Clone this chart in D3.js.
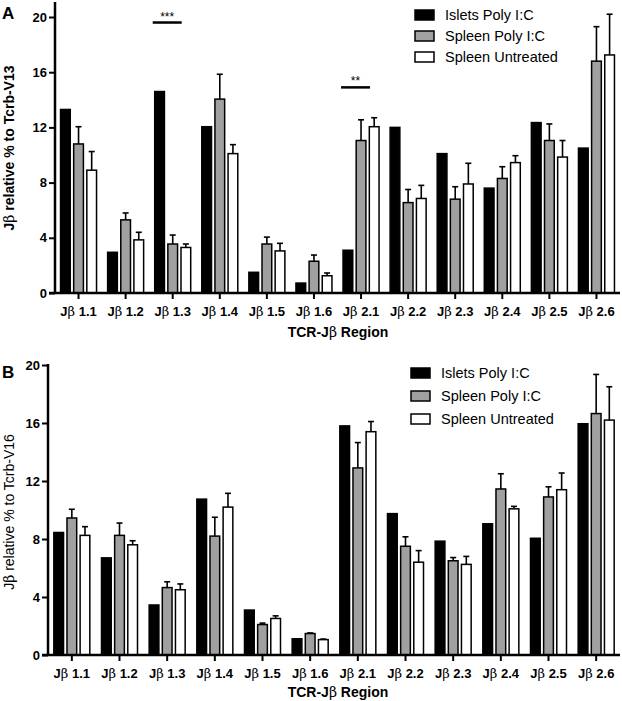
<!DOCTYPE html>
<html lang="en">
<head>
<meta charset="UTF-8">
<title>TCR-Jb usage</title>
<script src="https://cdn.jsdelivr.net/npm/d3@7"></script>
<style>
  body { margin: 0; background: #fff; }
  svg { font-family: Arial, "Liberation Sans", sans-serif; display: block; }
  .tick-label { font-size: 13px; font-weight: bold; }
  .beta { font-family: "DejaVu Serif", "Liberation Serif", serif; font-weight: normal; }
</style>
</head>
<body>
<svg id="chart" width="622" height="701"></svg>
<script>
// categories and series
var regions = ["1.1", "1.2", "1.3", "1.4", "1.5", "1.6", "2.1", "2.2", "2.3", "2.4", "2.5", "2.6"];
var seriesNames = ["Islets Poly I:C", "Spleen Poly I:C", "Spleen Untreated"];
var seriesFill = ["#000000", "#a0a0a0", "#ffffff"];
var yTicks = [0, 4, 8, 12, 16, 20];

// panel A (Tcrb-V13): means and upper error ends
var islets13 = [13.3, 2.95, 14.6, 12.05, 1.5, 0.72, 3.1, 12.0, 10.1, 7.6, 12.35, 10.5];
var splPoly13 = [10.8, 5.3, 3.55, 14.05, 3.55, 2.3, 11.05, 6.55, 6.8, 8.3, 11.05, 16.8];
var splPoly13Err = [12.05, 5.8, 4.2, 15.85, 4.05, 2.75, 12.55, 7.5, 7.7, 9.15, 12.25, 19.3];
var splUnt13 = [8.9, 3.85, 3.3, 10.1, 3.05, 1.25, 12.05, 6.85, 7.9, 9.45, 9.85, 17.25];
var splUnt13Err = [10.25, 4.4, 3.55, 10.75, 3.6, 1.45, 12.7, 7.8, 9.4, 9.95, 11.05, 20.2];

// panel B (Tcrb-V16)
var islets16 = [8.45, 6.7, 3.45, 10.75, 3.1, 1.12, 15.8, 9.75, 7.85, 9.05, 8.05, 15.95];
var splPoly16 = [9.45, 8.25, 4.65, 8.2, 2.1, 1.48, 12.9, 7.5, 6.5, 11.45, 10.9, 16.65];
var splPoly16Err = [10.05, 9.1, 5.05, 9.5, 2.2, 1.52, 14.65, 8.15, 6.72, 12.5, 11.6, 19.35];
var splUnt16 = [8.25, 7.6, 4.5, 10.2, 2.52, 1.06, 15.4, 6.4, 6.25, 10.08, 11.4, 16.2];
var splUnt16Err = [8.85, 7.88, 4.9, 11.15, 2.7, 1.1, 16.1, 7.2, 6.8, 10.25, 12.55, 18.5];

// significance marks (panel A)
var sigA = [{region: "1.3", y: 19.6, label: "***"}, {region: "2.1", y: 14.9, label: "**"}];

var svg = d3.select("#chart");

function betaText(sel, before, after) {
  sel.append("tspan").text(before);
  sel.append("tspan").attr("class", "beta").text("\u03b2");
  sel.append("tspan").text(after);
}

function drawPanel(o) {
  var g = svg.append("g");

  var x = d3.scaleBand().domain(regions).range([o.left, o.right]);
  var inner = d3.scaleBand().domain([0, 1, 2]).range([-18, 18]).paddingInner(0.26);
  var y = d3.scaleLinear().domain([0, 20]).range([o.bottom, o.top]);

  var rows = regions.map(function (r, i) {
    return {
      region: r,
      vals: [
        {s: 0, v: o.means[0][i], e: null},
        {s: 1, v: o.means[1][i], e: o.errs[1][i]},
        {s: 2, v: o.means[2][i], e: o.errs[2][i]}
      ]
    };
  });

  var groups = g.selectAll("g.grp").data(rows).enter().append("g")
    .attr("transform", function (d) { return "translate(" + (x(d.region) + x.bandwidth() / 2) + ",0)"; });

  // error whiskers (upper only)
  groups.selectAll("g.err").data(function (d) { return d.vals.filter(function (v) { return v.e != null; }); })
    .enter().append("g").each(function (d) {
      var cx = inner(d.s) + inner.bandwidth() / 2;
      var e = d3.select(this);
      e.append("line").attr("x1", cx).attr("x2", cx).attr("y1", y(d.v)).attr("y2", y(d.e))
        .attr("stroke", "#000").attr("stroke-width", 1.6);
      e.append("line").attr("x1", cx - 3).attr("x2", cx + 3).attr("y1", y(d.e)).attr("y2", y(d.e))
        .attr("stroke", "#000").attr("stroke-width", 1.6);
    });

  groups.selectAll("rect").data(function (d) { return d.vals; }).enter().append("rect")
    .attr("x", function (d) { return inner(d.s); })
    .attr("width", inner.bandwidth())
    .attr("y", function (d) { return y(d.v); })
    .attr("height", function (d) { return o.bottom - y(d.v); })
    .attr("fill", function (d) { return seriesFill[d.s]; })
    .attr("stroke", "#000")
    .attr("stroke-width", 1.5);

  // y axis
  var ya = g.append("g").attr("transform", "translate(" + o.left + ",0)")
    .call(d3.axisLeft(y).tickValues(yTicks).tickSize(6).tickPadding(2).tickFormat(d3.format("d")))
    .attr("font-family", null).attr("font-size", null);
  ya.select(".domain").attr("stroke-width", 2.5).attr("d", "M0," + o.axisTop + "V" + o.bottom);
  ya.selectAll(".tick line").attr("stroke-width", 2);
  ya.selectAll(".tick text").attr("class", "tick-label").attr("fill", "#000");

  // x axis
  var xa = g.append("g").attr("transform", "translate(0," + o.bottom + ")")
    .call(d3.axisBottom(x).tickSize(6).tickFormat(""))
    .attr("font-family", null).attr("font-size", null);
  xa.select(".domain").attr("stroke-width", 2.5).attr("d", "M" + (o.left - 6) + ",0H" + o.right);
  xa.selectAll(".tick line").attr("stroke-width", 2);
  xa.selectAll(".tick text").remove();
  xa.selectAll(".tick").append("text")
    .attr("class", "tick-label")
    .attr("fill", "#000")
    .attr("y", 23)
    .attr("text-anchor", "middle")
    .each(function (d) { betaText(d3.select(this), "J", " " + d); });

  // x title
  var xt = g.append("text")
    .attr("x", 338).attr("y", o.bottom + o.xTitleDy)
    .attr("text-anchor", "middle")
    .attr("font-size", 14).attr("font-weight", "bold");
  betaText(xt, "TCR-J", " Region");

  // y title
  var yt = g.append("text")
    .attr("transform", "translate(" + o.yTitleX + "," + o.yTitleY + ") rotate(-90)")
    .attr("text-anchor", "middle")
    .attr("font-size", 14).attr("font-weight", o.yTitleWeight);
  betaText(yt, "J", " relative % to " + o.yName);

  // panel letter
  g.append("text").attr("x", 2).attr("y", o.letterY)
    .attr("font-size", 17).attr("font-weight", "bold").text(o.letter);

  // legend
  var lg = g.append("g");
  seriesNames.forEach(function (name, i) {
    var cy = o.legY + i * o.legStep;
    lg.append("rect").attr("x", o.legX).attr("y", cy - 5).attr("width", 19).attr("height", 10)
      .attr("fill", seriesFill[i]).attr("stroke", "#000").attr("stroke-width", 1.5);
    lg.append("text").attr("x", o.legX + 30).attr("y", cy + 5)
      .attr("font-size", 14.5).text(name);
  });

  // significance marks
  (o.sig || []).forEach(function (s) {
    var c = x(s.region) + x.bandwidth() / 2;
    g.append("line").attr("x1", c - 20).attr("x2", c + 9).attr("y1", y(s.y)).attr("y2", y(s.y))
      .attr("stroke", "#000").attr("stroke-width", 2.5);
    g.append("text").attr("x", c - 5.5).attr("y", y(s.y) - 2).attr("text-anchor", "middle")
      .attr("font-size", 12).text(s.label);
  });
}

drawPanel({
  left: 55, right: 620, top: 17, bottom: 293, axisTop: 2,
  means: [islets13, splPoly13, splUnt13],
  errs: [null, splPoly13Err, splUnt13Err],
  yName: "Tcrb-V13", yTitleX: 14, yTitleY: 148, yTitleWeight: "bold",
  letter: "A", letterY: 19, xTitleDy: 44,
  legX: 415, legY: 15, legStep: 21,
  sig: sigA
});

drawPanel({
  left: 48, right: 620, top: 365, bottom: 655, axisTop: 364,
  means: [islets16, splPoly16, splUnt16],
  errs: [null, splPoly16Err, splUnt16Err],
  yName: "Tcrb-V16", yTitleX: 14, yTitleY: 512, yTitleWeight: "normal",
  letter: "B", letterY: 378, xTitleDy: 42,
  legX: 411, legY: 373, legStep: 23
});
</script>
</body>
</html>
